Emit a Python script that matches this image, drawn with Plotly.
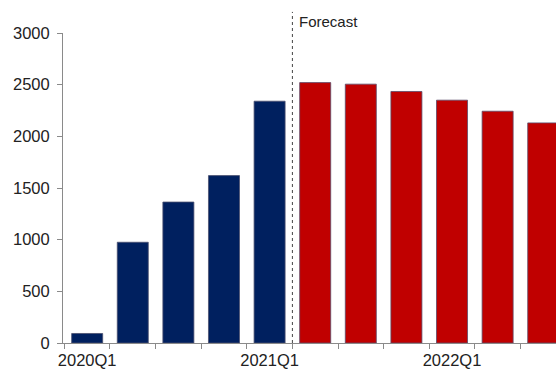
import plotly.graph_objects as go

categories = ["2020Q1", "2020Q2", "2020Q3", "2020Q4", "2021Q1",
              "2021Q2", "2021Q3", "2021Q4", "2022Q1", "2022Q2", "2022Q3"]
actual_values = [92, 975, 1364, 1620, 2340]
forecast_values = [2520, 2505, 2434, 2350, 2243, 2130]
y_ticks = [0, 500, 1000, 1500, 2000, 2500, 3000]
x_label_cats = ["2020Q1", "2021Q1", "2022Q1"]

idx = {c: i for i, c in enumerate(categories)}
n_act = len(actual_values)
x_act = [idx[c] for c in categories[:n_act]]
x_fc = [idx[c] for c in categories[n_act:]]

fig = go.Figure()
fig.add_trace(go.Bar(x=x_act, y=actual_values, marker=dict(color="#00205F", line=dict(color="#4a4f6e", width=0.8))))
fig.add_trace(go.Bar(x=x_fc, y=forecast_values, marker=dict(color="#C00000", line=dict(color="#5a4a6a", width=0.8))))

boundary = n_act - 0.5
fig.add_shape(type="line", xref="x", yref="paper", x0=boundary, x1=boundary, y0=0, y1=1.068,
              line=dict(color="#444444", width=1, dash="dot"))
fig.add_annotation(xref="x", yref="paper", x=boundary, y=1.036, text="Forecast", showarrow=False,
                   xanchor="left", yanchor="middle", xshift=5,
                   font=dict(family="Liberation Sans, Arial", size=15, color="#222222"))

fig.update_layout(
    width=556, height=370,
    margin=dict(l=63, r=0, t=33, b=27),
    paper_bgcolor="white", plot_bgcolor="white",
    showlegend=False, bargap=0.32,
    font=dict(family="Liberation Sans, Arial", size=16, color="#222222"),
)
fig.update_xaxes(
    range=[-0.53, 10.28], automargin=False,
    tickmode="array", tickvals=[idx[c] for c in x_label_cats], ticktext=x_label_cats,
    ticks="", showline=True, linecolor="#8a8a8a", linewidth=1, showgrid=False, zeroline=False,
    minor=dict(ticks="outside", tickmode="array", tickvals=[i - 0.5 for i in range(len(categories) + 1)],
               ticklen=5, tickcolor="#8a8a8a", showgrid=False),
    tickfont=dict(size=16.5), ticklabelstandoff=2,
)
fig.update_yaxes(
    range=[0, 3000], tickmode="array", tickvals=y_ticks, automargin=False,
    ticks="outside", ticklen=5, tickcolor="#8a8a8a",
    showline=True, linecolor="#8a8a8a", linewidth=1, showgrid=False, zeroline=False,
    tickfont=dict(size=16.5), ticklabelstandoff=4,
)

fig.write_html("out.html", config={"displayModeBar": False},
               post_script="document.body.style.margin='0';document.body.style.overflow='hidden';")
